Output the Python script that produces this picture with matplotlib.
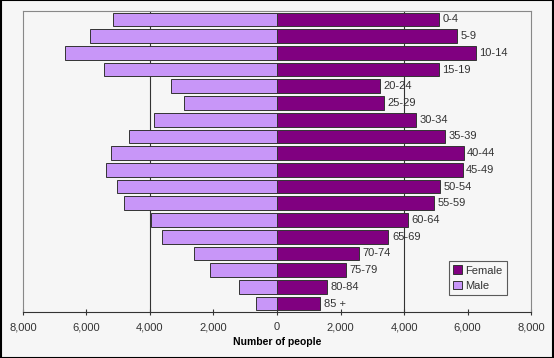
import matplotlib.pyplot as plt
from matplotlib.ticker import FuncFormatter
import numpy as np

# age groups, top to bottom
age_groups = ["0-4", "5-9", "10-14", "15-19", "20-24", "25-29", "30-34", "35-39",
              "40-44", "45-49", "50-54", "55-59", "60-64", "65-69", "70-74",
              "75-79", "80-84", "85 +"]
male = [5150, 5890, 6680, 5450, 3350, 2930, 3860, 4650, 5240, 5390,
        5030, 4820, 3980, 3630, 2600, 2110, 1190, 670]
female = [5110, 5670, 6270, 5090, 3250, 3380, 4380, 5280, 5880, 5850,
          5140, 4960, 4120, 3510, 2590, 2180, 1570, 1360]

x_ticks = [-8000, -6000, -4000, -2000, 0, 2000, 4000, 6000, 8000]

FEMALE_COLOR = "#800080"
MALE_COLOR = "#c896f8"
BG = "#f6f6f6"
FONT = "Liberation Sans"

fig = plt.figure(figsize=(5.54, 3.58), dpi=100, facecolor=BG)
ax = fig.add_axes([0.0415, 0.1285, 0.917, 0.8405])
ax.set_facecolor(BG)

y = np.arange(len(age_groups))
h = 0.82
ax.barh(y, [-v for v in male], height=h, color=MALE_COLOR, edgecolor="#333333",
        linewidth=0.7, label="Male", zorder=3)
ax.barh(y, female, height=h, color=FEMALE_COLOR, edgecolor="#333333",
        linewidth=0.7, label="Female", zorder=3)

for yi, v, lab in zip(y, female, age_groups):
    ax.text(v + 110, yi, lab, va="center", ha="left", fontsize=8,
            color="#333333", family=FONT, zorder=4)

ax.set_xlim(-8000, 8000)
ax.set_ylim(len(age_groups) - 0.5, -0.5)
ax.set_xticks(x_ticks)
ax.xaxis.set_major_formatter(FuncFormatter(lambda v, p: f"{abs(int(v)):,}"))
ax.set_yticks([])
for g in (-4000, 4000):
    ax.axvline(g, color="#333333", linewidth=0.8, zorder=1)

for lbl in ax.get_xticklabels():
    lbl.set_family(FONT)
ax.tick_params(axis="x", direction="inout", length=5, labelsize=8,
               color="#333333", labelcolor="#333333", pad=5)
for side in ("top", "right", "left"):
    ax.spines[side].set_color("#888888")
    ax.spines[side].set_linewidth(0.8)
ax.spines["bottom"].set_color("#333333")
ax.spines["bottom"].set_linewidth(0.8)

ax.set_xlabel("Number of people", fontsize=7.5, fontweight="bold",
              family=FONT, labelpad=3)

handles, labels = ax.get_legend_handles_labels()
leg = ax.legend(handles[::-1], labels[::-1], loc="lower right",
                bbox_to_anchor=(0.953, 0.056), borderaxespad=0,
                frameon=True, fancybox=False, edgecolor="#333333", facecolor=BG,
                handlelength=0.8, handleheight=0.8, handletextpad=0.3,
                borderpad=0.4, labelspacing=0.45,
                prop={"family": FONT, "size": 8})
leg.get_frame().set_linewidth(0.8)
for t in leg.get_texts():
    t.set_color("#333333")

# outer black frame
fig.patches.append(plt.Rectangle((0.001, 0.001), 0.998, 0.998, transform=fig.transFigure,
                                 fill=False, edgecolor="black", linewidth=1.5))

fig.savefig("out.png", dpi=100, facecolor=BG)
